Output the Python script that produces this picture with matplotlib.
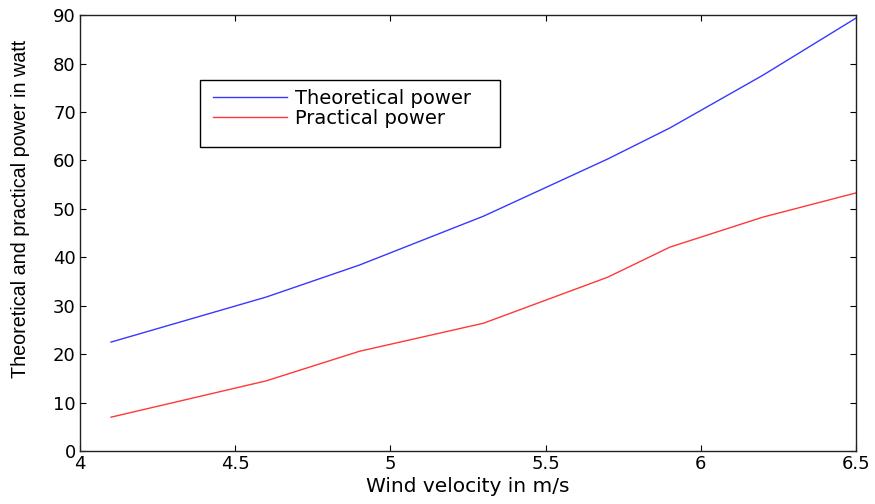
import numpy as np
import matplotlib.pyplot as plt
from matplotlib.patches import Rectangle

# Wind velocity (m/s) and power output (W)
velocity = [4.1, 4.6, 4.9, 5.3, 5.7, 5.9, 6.2, 6.5]
theoretical = [22.5, 31.8, 38.4, 48.5, 60.3, 66.7, 77.6, 89.4]
practical = [7.0, 14.5, 20.6, 26.4, 35.9, 42.1, 48.3, 53.3]

plt.rcParams['font.family'] = ['DejaVu Sans']

fig = plt.figure(figsize=(8.75, 5.04), dpi=100)
ax = fig.add_axes([0.0914, 0.105, 0.887, 0.865])

ax.plot(velocity, theoretical, color='#3838ff', lw=1.0, label='Theoretical power')
ax.plot(velocity, practical, color='#ff3838', lw=1.0, label='Practical power')

ax.set_xlim(4, 6.5)
ax.set_ylim(0, 90)
ax.set_xticks(np.arange(4, 6.51, 0.5))
ax.set_xticklabels(['4', '4.5', '5', '5.5', '6', '6.5'])
ax.set_yticks(np.arange(0, 91, 10))

ax.tick_params(direction='in', top=True, right=True, length=4, width=0.8,
               labelsize=13, pad=3)
for s in ax.spines.values():
    s.set_linewidth(1.0)
    s.set_color('#222222')

ax.set_xlabel('Wind velocity in m/s', fontsize=14.5, labelpad=3)
ax.set_ylabel('Theoretical and practical power in watt', fontsize=14.2,
              family=['Liberation Sans'])
ax.yaxis.set_label_coords(-0.064, 0.555)

# legend frame drawn separately so it keeps the roomy box
ax.add_patch(Rectangle((0.155, 0.697), 0.386, 0.154, transform=ax.transAxes,
                       fill=False, edgecolor='black', lw=1.0, zorder=5))
leg = ax.legend(loc='upper left', bbox_to_anchor=(0.172, 0.830), fontsize=14,
                frameon=False, handlelength=3.8, handletextpad=0.4,
                borderpad=0, labelspacing=0.03, borderaxespad=0)

fig.savefig('out.png', dpi=100)
